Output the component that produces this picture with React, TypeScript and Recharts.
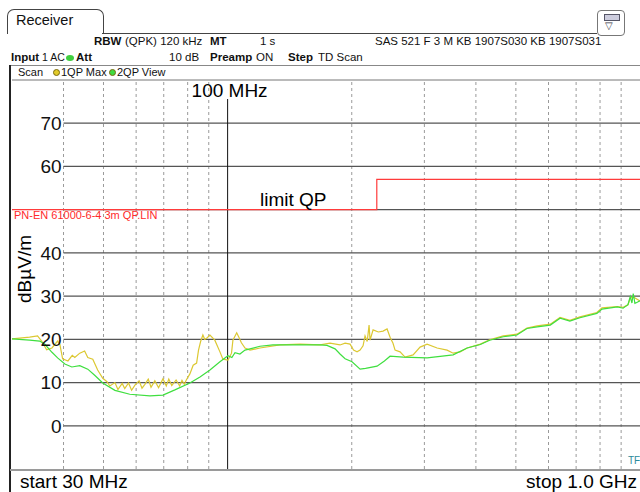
import { LineChart, Line, XAxis, YAxis, ReferenceLine } from "recharts";

const FONT = '"Liberation Sans", Arial, sans-serif';

// 1QP Max trace (yellow), frequency in MHz, level in dBµV/m
const qpMaxFreq = [
  30, 31.3, 33.1, 34.6, 35.4, 36.4, 37.5, 38.7, 39.2, 39.8, 41, 42, 42.6, 43.8, 45, 45.8, 47.1, 48.4, 49.8, 51,
  51.8, 53.3, 54.2, 55.5, 56.3, 57.5, 58.5, 59.6, 61, 62, 63, 64.2, 65.2, 66.6, 68, 69.7, 71, 72, 73.2, 75,
  76.5, 77.5, 78.5, 79.4, 81, 82.5, 84.1, 85, 86, 87.1, 88, 89.1, 90.6, 93.1, 95.8, 97.4, 100.2, 102.2, 103, 105.2,
  106.5, 108, 110.2, 113.3, 119.8, 133.9, 149.8, 167.5, 177.1, 187.3, 192.7, 198.1, 202, 206, 209.5, 213, 215.4, 218, 220.3, 221.5,
  225.3, 232, 238.2, 243.6, 247.7, 251.8, 254.7, 261.9, 269.3, 281.7, 292.9, 304.6, 322.1, 340.6, 352.3, 366.3, 380.9, 410, 432, 466,
  503, 532, 563, 606, 640, 676, 715, 786, 809, 881, 910, 935, 947, 963, 1000,
];
const qpMaxLevel = [
  20.1, 20.3, 20.5, 20.8, 19.6, 17.6, 18, 19.6, 18.8, 15.5, 15, 16.3, 15.8, 16.8, 17.3, 15.8, 15.4, 12.9, 11, 10.2,
  9.2, 10, 8.4, 9.8, 8.6, 9.9, 8.2, 9.4, 10.4, 8.7, 9.6, 10.8, 8.9, 10.4, 8.8, 10.9, 9.2, 10.8, 9.3, 10.6,
  9.2, 10.5, 9.6, 10.6, 12, 14, 14.5, 17.5, 19.5, 21, 20, 20.3, 21, 19.8, 17.1, 15.4, 15.2, 16.8, 19.8, 21.5,
  20.5, 19.2, 18, 17.5, 18, 18.7, 18.9, 18.7, 19.1, 18.7, 19.1, 18.9, 17.5, 17.1, 17.5, 18.5, 20.8, 19.5, 23.3, 19.8,
  22.2, 21.7, 21.9, 22.4, 20.5, 19.1, 17.5, 17.1, 15.9, 16.4, 18.2, 18.9, 18, 17.5, 16.8, 17.1, 18, 18.9, 19.9, 20.8,
  21.2, 22.6, 23.1, 23.5, 25.1, 24.4, 25.2, 26.2, 27.3, 27.6, 27.4, 28, 29.5, 29.8, 28.9,
];

// 2QP View trace (green)
const qpViewFreq = [
  30, 33.1, 35, 36, 37.5, 38.7, 40.3, 41.9, 43.8, 45.8, 47.6, 49.8, 53.3, 57.9, 64.8, 69.7, 74.5, 81, 85.7, 90.6,
  95.8, 100.2, 102.4, 104.2, 107.1, 110.2, 119.8, 128.8, 149.8, 167.5, 174.2, 182.2, 187.3, 192.7, 200.3, 209.5, 216, 230.3, 240, 247.7,
  266.4, 304.6, 352.3, 380.9, 410, 432, 466, 503, 532, 563, 606, 640, 676, 715, 786, 809, 881, 910, 935, 947,
  956, 963, 972, 1000,
];
const qpViewLevel = [
  20.1, 19.8, 19.6, 18.9, 17, 15.7, 14.3, 13.6, 13.9, 13.1, 11.7, 9.9, 8.2, 7.3, 6.9, 7.1, 8.3, 9.9, 11.3, 12.9,
  14.8, 16.2, 15.8, 16.9, 16.6, 17.5, 18.4, 18.7, 18.7, 18.7, 18.6, 17.8, 16.6, 15.5, 14.8, 13.1, 13.3, 13.8, 15, 16.1,
  15.9, 15.7, 16.4, 18, 18.8, 19.8, 20.6, 21, 22.5, 22.9, 23.3, 24.9, 24.2, 25, 26, 27, 27.5, 27.2, 28, 29.9,
  28.4, 30.6, 28.3, 28.9,
];

// PN-EN 61000-6-4 3 m QP limit
const limitFreq = [30, 230, 1000];
const limitLevel = [50, 57, 57];

const gridFreq = [40, 50, 60, 70, 80, 90, 200, 300, 400, 500, 600, 700, 800, 900];
const levelGrid = [0, 10, 20, 30, 40, 50, 60, 70];
const levelLabels = ["0", "10", "20", "30", "40", "", "60", "70"];

const rows = (f: number[], v: number[]) => f.map((x, i) => ({ f: x, v: v[i] }));

function Tx({ x, y, size = 11.5, bold = false, color = "#111", children }: any) {
  return (
    <span
      style={{
        position: "absolute",
        left: x,
        top: y,
        fontSize: size,
        lineHeight: `${size + 2}px`,
        fontWeight: bold ? 700 : 400,
        color,
        whiteSpace: "nowrap",
      }}
    >
      {children}
    </span>
  );
}

function Dot({ x, y, fill }: { x: number; y: number; fill: string }) {
  return (
    <span
      style={{
        position: "absolute",
        left: x,
        top: y,
        width: 7,
        height: 7,
        borderRadius: "50%",
        background: fill,
        border: "1px solid #7a6a10",
        boxSizing: "border-box",
      }}
    />
  );
}

function Header() {
  return (
    <>
      <div
        style={{
          position: "absolute",
          left: 7,
          top: 9,
          width: 95,
          height: 24,
          border: "1px solid #444",
          borderBottom: "none",
          borderRadius: "7px 7px 0 0",
        }}
      />
      <Tx x={16} y={12} size={14.5}>Receiver</Tx>
      <div style={{ position: "absolute", left: 102, top: 33, width: 495, height: 1, background: "#444" }} />
      <div
        style={{
          position: "absolute",
          left: 597,
          top: 10,
          width: 28,
          height: 26,
          border: "1px solid #777",
          borderRadius: 4,
          boxSizing: "border-box",
        }}
      />
      <div style={{ position: "absolute", left: 604, top: 14, width: 14, height: 5, border: "1px solid #556", background: "#ccd" }} />
      <Tx x={605} y={20} size={10} color="#334">▽</Tx>

      <Tx x={94} y={35} bold>RBW</Tx>
      <Tx x={125} y={35}>(QPK) 120 kHz</Tx>
      <Tx x={210} y={35} bold>MT</Tx>
      <Tx x={260} y={35}>1 s</Tx>
      <Tx x={375} y={35}>SAS 521 F 3 M KB 1907S030 KB 1907S031</Tx>

      <Tx x={11} y={51} bold>Input</Tx>
      <Tx x={42} y={51} size={10.5}>1 AC</Tx>
      <span
        style={{ position: "absolute", left: 66, top: 55, width: 8, height: 6, borderRadius: "50%", background: "#3fcf3f" }}
      />
      <Tx x={76} y={51} bold>Att</Tx>
      <Tx x={169} y={51}>10 dB</Tx>
      <Tx x={210} y={51} bold>Preamp</Tx>
      <Tx x={256} y={51}>ON</Tx>
      <Tx x={288} y={51} bold>Step</Tx>
      <Tx x={318} y={51}>TD Scan</Tx>

      <div style={{ position: "absolute", left: 10, top: 65, width: 630, height: 1, background: "#888" }} />
      <Tx x={18} y={66} size={11}>Scan</Tx>
      <Dot x={53} y={69} fill="#e2cb2a" />
      <Tx x={61} y={66} size={11}>1QP Max</Tx>
      <Dot x={109} y={69} fill="#3fdc3f" />
      <Tx x={117} y={66} size={11}>2QP View</Tx>

      <div style={{ position: "absolute", left: 9, top: 65, width: 2, height: 427, background: "#222" }} />
    </>
  );
}

function Footer() {
  return (
    <>
      <div style={{ position: "absolute", left: 10, top: 469, width: 630, height: 2, background: "#9a9a9a" }} />
      <Tx x={20} y={471} size={19} color="#000">start 30 MHz</Tx>
      <span
        style={{ position: "absolute", right: 3, top: 471, fontSize: 19, lineHeight: "21px", color: "#000", whiteSpace: "nowrap" }}
      >
        stop 1.0 GHz
      </span>
      <Tx x={628} y={455} size={10} color="#2a8a9a">TF</Tx>
    </>
  );
}

export default function App() {
  return (
    <div
      style={{
        position: "absolute",
        left: 0,
        top: 0,
        width: 640,
        height: 492,
        background: "#fff",
        overflow: "hidden",
        fontFamily: FONT,
      }}
    >
      <Header />
      <div style={{ position: "absolute", left: 0, top: 0 }}>
        <LineChart width={640} height={492} margin={{ top: 80, right: 0, bottom: 23, left: 12 }}>
          <XAxis dataKey="f" type="number" scale="log" domain={[30, 1000]} allowDataOverflow hide />
          <YAxis type="number" domain={[-10, 80]} allowDataOverflow hide />
          <ReferenceLine y={80} stroke="#777" />
          {gridFreq.map((f) => (
            <ReferenceLine key={f} x={f} stroke="#9a9a9a" strokeDasharray="3 3" />
          ))}
          {levelGrid.map((v, i) => (
            <ReferenceLine
              key={v}
              segment={[
                { x: 40, y: v },
                { x: 1000, y: v },
              ]}
              stroke="#555"
              strokeWidth={1.3}
              label={levelLabels[i] ? { value: levelLabels[i], position: "left", offset: 2, fontSize: 19, fill: "#111" } : undefined}
            />
          ))}
          <ReferenceLine
            segment={[
              { x: 100, y: 75.6 },
              { x: 100, y: -10 },
            ]}
            stroke="#111"
            label={{ value: "100 MHz", position: "top", offset: 2, dx: 2, fontSize: 19, fill: "#000" }}
          />
          <ReferenceLine
            segment={[
              { x: 121, y: 50 },
              { x: 172, y: 50 },
            ]}
            strokeOpacity={0}
            label={{ value: "limit QP", position: "top", offset: 4, fontSize: 19, fill: "#000" }}
          />
          <ReferenceLine
            segment={[
              { x: 30, y: 50 },
              { x: 100, y: 50 },
            ]}
            strokeOpacity={0}
            label={{ value: "PN-EN 61000-6-4 3m QP.LIN", position: "insideTopLeft", offset: 2, fontSize: 11, fill: "#ff2a2a" }}
          />
          <Line
            data={rows(limitFreq, limitLevel)}
            dataKey="v"
            type="stepAfter"
            stroke="#ff3b3b"
            strokeWidth={1.2}
            dot={false}
            isAnimationActive={false}
          />
          <Line
            data={rows(qpMaxFreq, qpMaxLevel)}
            dataKey="v"
            type="linear"
            stroke="#dcc832"
            strokeWidth={1.2}
            dot={false}
            isAnimationActive={false}
          />
          <Line
            data={rows(qpViewFreq, qpViewLevel)}
            dataKey="v"
            type="linear"
            stroke="#3fdf3f"
            strokeWidth={1.2}
            dot={false}
            isAnimationActive={false}
          />
        </LineChart>
      </div>
      <span
        style={{
          position: "absolute",
          left: 24,
          top: 269,
          transform: "translate(-50%, -50%) rotate(-90deg)",
          fontSize: 19,
          lineHeight: "21px",
          color: "#000",
          whiteSpace: "nowrap",
        }}
      >
        dBµV/m
      </span>
      <Footer />
    </div>
  );
}
